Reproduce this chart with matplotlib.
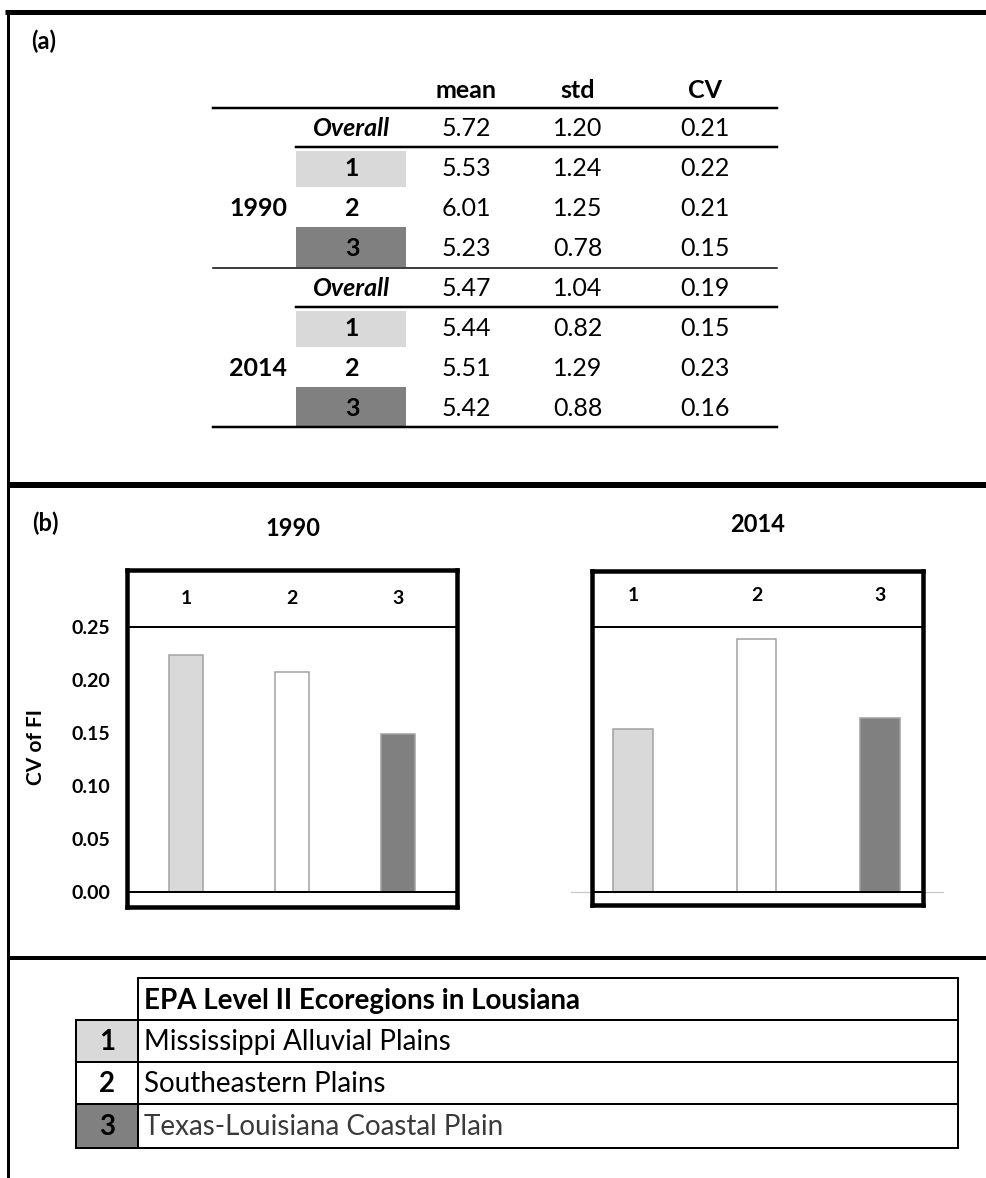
import matplotlib
matplotlib.use('Agg')
import matplotlib.pyplot as plt
from matplotlib.patches import Rectangle

# Dati della tabella (a)
years = ['1990', '2014']
groups = ['Overall', '1', '2', '3']
columns = ['mean', 'std', 'CV']
mean_1990 = [5.72, 5.53, 6.01, 5.23]
std_1990 = [1.20, 1.24, 1.25, 0.78]
cv_1990 = [0.21, 0.22, 0.21, 0.15]
mean_2014 = [5.47, 5.44, 5.51, 5.42]
std_2014 = [1.04, 0.82, 1.29, 0.88]
cv_2014 = [0.19, 0.15, 0.23, 0.16]

# Dati dei grafici a barre (b)
regions = ['1', '2', '3']
bar_cv_1990 = [0.224, 0.208, 0.149]
bar_cv_2014 = [0.154, 0.239, 0.164]
yticks = [0.00, 0.05, 0.10, 0.15, 0.20, 0.25]

# Legenda (c)
legend_title = 'EPA Level II Ecoregions in Lousiana'
ecoregions = ['Mississippi Alluvial Plains', 'Southeastern Plains', 'Texas-Louisiana Coastal Plain']
region_colors = ['#d9d9d9', '#ffffff', '#808080']
edge_grey = '#a0a0a0'

W, H = 987, 1178
PX = 0.72  # 1 pixel in punti a 100 dpi

plt.rcParams['font.family'] = ['Lato', 'DejaVu Sans']


def px_rect(x0, y0, x1, y1):
    return [x0 / W, 1 - y1 / H, (x1 - x0) / W, (y1 - y0) / H]


fig = plt.figure(figsize=(W / 100, H / 100), dpi=100)
fig.patch.set_facecolor('white')

# Asse "tela" in coordinate pixel
canvas = fig.add_axes([0, 0, 1, 1])
canvas.set_xlim(0, W)
canvas.set_ylim(H, 0)
canvas.axis('off')

# Cornici
canvas.plot([5, W], [12, 12], color='black', lw=5 * PX, solid_capstyle='butt')
canvas.plot([8, 8], [10, H], color='black', lw=3 * PX, solid_capstyle='butt')
canvas.plot([8, W], [485, 485], color='black', lw=6 * PX, solid_capstyle='butt')
canvas.plot([8, W], [958, 958], color='black', lw=4 * PX, solid_capstyle='butt')

# ---------------- (a) tabella ----------------
canvas.text(44, 41, '(a)', fontsize=17, fontweight='bold', ha='center', va='center')

col_x = [466, 578, 705]
grp_x = 352
fs = 18
for cx, name in zip(col_x, columns):
    canvas.text(cx, 90, name, fontsize=fs, fontweight='bold', ha='center', va='center')

canvas.plot([213, 777], [108, 108], color='black', lw=2.5 * PX)

blocks = [(years[0], mean_1990, std_1990, cv_1990, 108),
          (years[1], mean_2014, std_2014, cv_2014, 268)]
row_off = [21, 61, 100, 140]
for year, m, s, c, y0 in blocks:
    # celle colorate per le regioni 1 e 3
    canvas.add_patch(Rectangle((296, y0 + 43), 110, 36, facecolor=region_colors[0], edgecolor='none'))
    canvas.add_patch(Rectangle((296, y0 + 119), 110, 40, facecolor=region_colors[2], edgecolor='none'))
    canvas.plot([296, 777], [y0 + 39, y0 + 39], color='black', lw=2.5 * PX)
    canvas.text(258, y0 + row_off[2], year, fontsize=fs, fontweight='bold', ha='center', va='center')
    for i, g in enumerate(groups):
        yy = y0 + row_off[i]
        if g == 'Overall':
            canvas.text(grp_x, yy, g, fontsize=fs, fontweight='bold', fontstyle='italic',
                        ha='center', va='center')
        else:
            canvas.text(grp_x, yy, g, fontsize=fs, fontweight='bold', ha='center', va='center')
        for cx, val in zip(col_x, [m[i], s[i], c[i]]):
            canvas.text(cx, yy, f'{val:.2f}', fontsize=fs, ha='center', va='center')

canvas.plot([213, 777], [268, 268], color='black', lw=1.5 * PX)
canvas.plot([213, 777], [427, 427], color='black', lw=2.5 * PX)

# ---------------- (b) grafici a barre ----------------
canvas.text(45, 523, '(b)', fontsize=17, fontweight='bold', ha='center', va='center')
canvas.text(293, 528, years[0], fontsize=17, fontweight='bold', ha='center', va='center')
canvas.text(758, 525, years[1], fontsize=17, fontweight='bold', ha='center', va='center')
canvas.text(36, 747, 'CV of FI', fontsize=15, fontweight='bold', rotation=90,
            ha='center', va='center')

x = list(range(len(regions)))

# 1990
ax1 = fig.add_axes(px_rect(127, 570, 457, 907))
ax1.bar(x, bar_cv_1990, width=0.32, color=region_colors, edgecolor=edge_grey, linewidth=1.5 * PX, zorder=2)
ax1.set_xlim(-0.557, 2.557)
ax1.set_ylim(-0.0142, 0.3038)
ax1.axhline(0, color='black', lw=2 * PX, zorder=3)
ax1.axhline(0.25, color='black', lw=2 * PX, zorder=3)
ax1.set_xticks([])
ax1.set_yticks(yticks)
ax1.set_yticklabels([f'{t:.2f}' for t in yticks], fontsize=14, fontweight='bold')
ax1.tick_params(axis='y', length=0, pad=12)
for i, r in enumerate(regions):
    ax1.text(i, 0.277, r, fontsize=14, fontweight='bold', ha='center', va='center')

# 2014
ax2 = fig.add_axes(px_rect(592, 571, 923, 905))
ax2.bar(x, bar_cv_2014, width=0.32, color=region_colors, edgecolor=edge_grey, linewidth=1.5 * PX, zorder=2)
ax2.set_xlim(-0.332, 2.348)
ax2.set_ylim(-0.0123, 0.3028)
ax2.plot([-0.5, 2.51], [0, 0], color='#c8c8c8', lw=1.2 * PX, clip_on=False, zorder=1)
ax2.axhline(0, color='black', lw=2 * PX, zorder=3)
ax2.axhline(0.25, color='black', lw=2 * PX, zorder=3)
ax2.set_xticks([])
ax2.set_yticks([])
for i, r in enumerate(regions):
    ax2.text(i, 0.280, r, fontsize=14, fontweight='bold', ha='center', va='center')

for ax in (ax1, ax2):
    ax.patch.set_alpha(0)
    for sp in ax.spines.values():
        sp.set_linewidth(4.5 * PX)
        sp.set_color('black')

# ---------------- (c) legenda ----------------
lx0, lx1, lx2 = 76, 138, 958
row_edges = [978, 1020, 1062, 1104, 1148]
fs_leg = 20

canvas.add_patch(Rectangle((lx1, row_edges[0]), lx2 - lx1, row_edges[1] - row_edges[0],
                           facecolor='white', edgecolor='black', lw=2 * PX))
canvas.text(lx1 + 6, (row_edges[0] + row_edges[1]) / 2 + 2, legend_title, fontsize=fs_leg,
            fontweight='bold', ha='left', va='center')
text_colors = ['black', 'black', '#3a3a3a']
for i, (name, col) in enumerate(zip(ecoregions, region_colors)):
    y0, y1 = row_edges[i + 1], row_edges[i + 2]
    canvas.add_patch(Rectangle((lx0, y0), lx1 - lx0, y1 - y0, facecolor=col, edgecolor='black', lw=2 * PX))
    canvas.add_patch(Rectangle((lx1, y0), lx2 - lx1, y1 - y0, facecolor='white', edgecolor='black', lw=2 * PX))
    canvas.text(107, (y0 + y1) / 2 + 1, regions[i], fontsize=fs_leg, fontweight='bold',
                ha='center', va='center')
    canvas.text(lx1 + 6, (y0 + y1) / 2 + 1, name, fontsize=fs_leg, color=text_colors[i],
                ha='left', va='center')

fig.savefig('out.png', dpi=100)
